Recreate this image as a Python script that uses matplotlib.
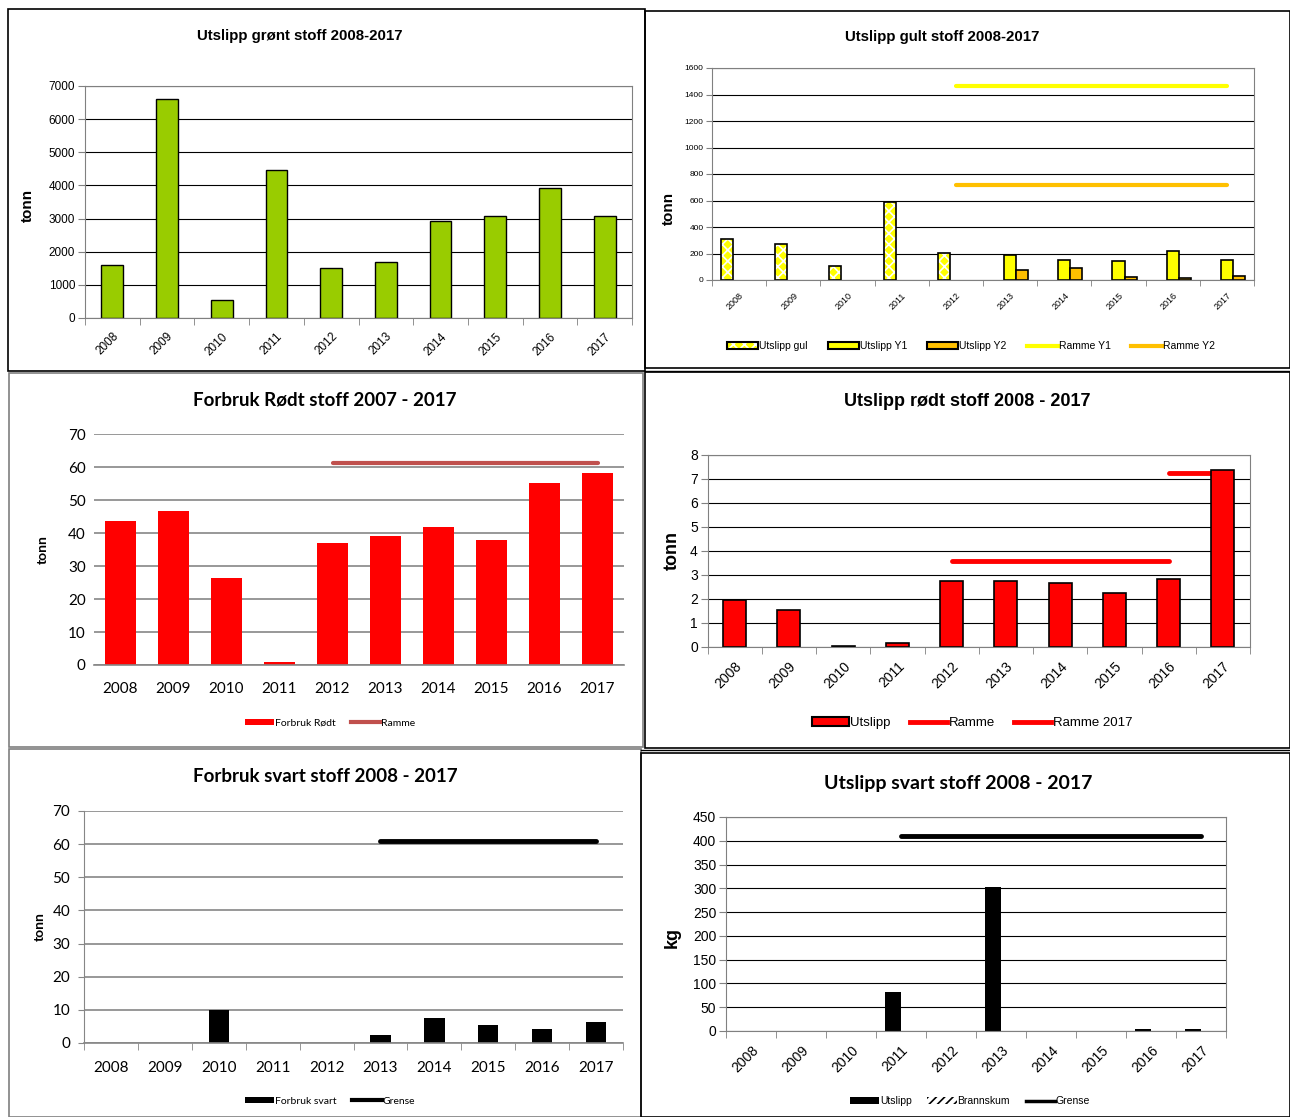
import numpy as np
import matplotlib
matplotlib.use("Agg")
import matplotlib.pyplot as plt
from matplotlib.patches import Rectangle, Patch
from matplotlib.lines import Line2D
from matplotlib.legend_handler import HandlerTuple

W, H = 1290, 1117
ARIAL = ['Liberation Sans', 'DejaVu Sans']
CALIBRI = ['Lato', 'Liberation Sans', 'DejaVu Sans']
plt.rcParams['hatch.linewidth'] = 1.2

years = ['2008', '2009', '2010', '2011', '2012', '2013', '2014', '2015', '2016', '2017']

# gront stoff, utslipp (tonn)
gront = [1596, 6616, 556, 4475, 1515, 1697, 2939, 3081, 3919, 3081]

# gult stoff (tonn)
gul_years = ['2008', '2009', '2010', '2011', '2012']
gul = [313, 269, 108, 587, 205]
y_years = ['2013', '2014', '2015', '2016', '2017']
y1 = [192, 149, 141, 218, 154]
y2 = [72, 90, 26, 13, 31]
ramme_years = ['2012', '2017']
ramme_y1 = [1465, 1465]
ramme_y2 = [715, 715]

# rodt stoff, forbruk (tonn)
rodt_forbruk = [43.6, 46.7, 26.3, 1.0, 36.9, 39.0, 41.9, 37.9, 55.3, 58.1]
ramme_forbruk_years = ['2012', '2017']
ramme_forbruk = [61.1, 61.1]

# rodt stoff, utslipp (tonn)
rodt_utslipp = [1.97, 1.55, 0.05, 0.17, 2.74, 2.77, 2.66, 2.27, 2.85, 7.38]
ramme_rodt_years = ['2012', '2016']
ramme_rodt = [3.57, 3.57]
ramme17_years = ['2016', '2017']
ramme17 = [7.27, 7.27]

# svart stoff, forbruk (tonn)
svart_forbruk = [0, 0, 9.9, 0, 0, 2.3, 7.4, 5.4, 4.1, 6.2]
grense_forbruk_years = ['2013', '2017']
grense_forbruk = [61, 61]

# svart stoff, utslipp (kg)
svart_utslipp = [0, 0, 0, 81, 0, 302.6, 0, 0, 3.5, 3.5]
brannskum = [0, 0, 0, 0, 0, 0, 0, 0, 0, 0]
grense_utslipp_years = ['2011', '2017']
grense_utslipp = [410, 410]

fig = plt.figure(figsize=(W / 100, H / 100), dpi=100)


def box(l, t, r, b):
    return fig.add_axes([l / W, 1 - b / H, (r - l) / W, (b - t) / H])


def frame(l, t, r, b, color='black'):
    fig.add_artist(Rectangle((l / W, 1 - b / H), (r - l) / W, (b - t) / H,
                             transform=fig.transFigure, fill=False,
                             edgecolor=color, lw=1.2))


def ftext(x, y, s, **kw):
    fig.text(x / W, 1 - y / H, s, ha='center', va='center', **kw)


def pos(labels):
    return [years.index(v) for v in labels]


def old_style(ax, ymax, step, fsize, xsize=None, ticklen=4):
    # excel 2003 look: grey frame, black grid, ticks between categories
    ax.set_xlim(-0.5, 9.5)
    ax.set_ylim(0, ymax)
    ax.set_yticks(np.arange(0, ymax + step, step))
    ax.yaxis.grid(True, color='black', lw=0.8)
    ax.set_axisbelow(True)
    for s in ax.spines.values():
        s.set_color('#808080')
    ax.set_xticks(range(10))
    ax.set_xticklabels(years, rotation=45, ha='right', rotation_mode='anchor',
                       family=ARIAL, fontsize=xsize or fsize)
    ax.set_xticks(np.arange(-0.5, 10, 1), minor=True)
    ax.tick_params(axis='x', which='major', length=0, pad=ticklen + 4)
    ax.tick_params(axis='x', which='minor', length=ticklen, color='#808080')
    ax.tick_params(axis='y', length=ticklen, color='#808080', pad=2)
    for t in ax.get_yticklabels():
        t.set_family(ARIAL)
        t.set_fontsize(fsize)


def new_style(ax, ymax, step, fsize, yline=False, xpad=12):
    # excel 2007 look: grey grid, no frame
    ax.set_xlim(-0.5, 9.5)
    ax.set_ylim(0, ymax)
    ax.set_yticks(np.arange(0, ymax + step, step))
    ax.yaxis.grid(True, color='#868686', lw=1.2)
    ax.set_axisbelow(True)
    for s in ['top', 'right']:
        ax.spines[s].set_visible(False)
    ax.spines['left'].set_visible(yline)
    ax.spines['left'].set_color('#868686')
    ax.spines['bottom'].set_color('#868686')
    ax.spines['bottom'].set_linewidth(1.2)
    ax.set_xticks(range(10))
    ax.set_xticklabels(years, family=CALIBRI, fontsize=fsize)
    ax.tick_params(axis='y', length=4 if yline else 0, color='#868686', pad=6)
    ax.tick_params(axis='x', which='major', length=0, pad=xpad)
    for t in ax.get_yticklabels():
        t.set_family(CALIBRI)
        t.set_fontsize(fsize)


# ---- panel 1: gront
frame(8, 9, 645, 371)
ax = box(85, 86, 632, 318)
old_style(ax, 7000, 1000, 8.5, ticklen=5)
ax.bar(range(10), gront, width=0.40, color='#99CC00', edgecolor='black', lw=1)
ftext(300, 36, 'Utslipp grønt stoff 2008-2017', family=ARIAL, fontsize=10.8, weight='bold')
ftext(28, 205, 'tonn', family=ARIAL, fontsize=11, weight='bold', rotation=90)

# ---- panel 2: gult
frame(645, 11, 1290, 368)
fig.add_artist(Line2D([645 / W, 1], [1 - 371 / H] * 2, transform=fig.transFigure, color='black', lw=1))
ax = box(712, 68, 1254, 280)
old_style(ax, 1600, 200, 6, xsize=6.5, ticklen=4)
w = 1 / 4.5
gx = np.array(pos(gul_years)) - w
ax.bar(gx, gul, width=w, color='#FFFF00', edgecolor='white', hatch='xxx', lw=0)
ax.bar(gx, gul, width=w, fill=False, edgecolor='black', lw=1.2)
yx = np.array(pos(y_years))
ax.bar(yx, y1, width=w, color='#FFFF00', edgecolor='black', lw=1.2)
ax.bar(yx + w, y2, width=w, color='#FFC000', edgecolor='black', lw=1.2)
ax.plot(pos(ramme_years), ramme_y1, color='#FFFF00', lw=3, solid_capstyle='round')
ax.plot(pos(ramme_years), ramme_y2, color='#FFC000', lw=3, solid_capstyle='round')
ftext(942, 37, 'Utslipp gult stoff 2008-2017', family=ARIAL, fontsize=10.8, weight='bold')
ftext(669, 208, 'tonn', family=ARIAL, fontsize=11, weight='bold', rotation=90)
h_gul = (Patch(facecolor='#FFFF00', edgecolor='white', hatch='xxx', lw=0),
         Patch(fill=False, edgecolor='black', lw=1.5))
handles = [h_gul,
           Patch(facecolor='#FFFF00', edgecolor='black', lw=1.5),
           Patch(facecolor='#FFC000', edgecolor='black', lw=1.5),
           Line2D([], [], color='#FFFF00', lw=3),
           Line2D([], [], color='#FFC000', lw=3)]
fig.legend(handles, ['Utslipp gul', 'Utslipp Y1', 'Utslipp Y2', 'Ramme Y1', 'Ramme Y2'],
           loc='center', bbox_to_anchor=(971 / W, 1 - 346 / H), ncol=5, frameon=False,
           prop={'family': ARIAL, 'size': 7.5}, handlelength=3.0, handleheight=0.6,
           handletextpad=0.1, columnspacing=1.9,
           handler_map={tuple: HandlerTuple(ndivide=1, pad=0)})

# ---- panel 3: rodt forbruk
frame(9, 373, 643, 747, color='#7f7f7f')
ax = box(94, 434, 624, 665)
new_style(ax, 70, 10, 11, xpad=12)
ax.bar(range(10), rodt_forbruk, width=0.58, color='#FF0000')
ax.plot(pos(ramme_forbruk_years), ramme_forbruk, color='#C0504D', lw=3, solid_capstyle='round')
ftext(325, 400, 'Forbruk Rødt stoff 2007 - 2017', family=CALIBRI, fontsize=13.5, weight='bold')
ftext(43, 550, 'tonn', family=CALIBRI, fontsize=10, weight='bold', rotation=90)
fig.legend([Patch(facecolor='#FF0000'), Line2D([], [], color='#C0504D', lw=3)],
           ['Forbruk Rødt', 'Ramme'], loc='center', bbox_to_anchor=(330 / W, 1 - 723 / H),
           ncol=2, frameon=False, prop={'family': CALIBRI, 'size': 7.5},
           handlelength=2.8, handleheight=0.6, handletextpad=0.1, columnspacing=1.5)

# ---- panel 4: rodt utslipp
frame(645, 372, 1290, 748)
ax = box(707.5, 455, 1250, 647)
old_style(ax, 8, 1, 10, ticklen=5)
ax.plot(pos(ramme_rodt_years), ramme_rodt, color='#FF0000', lw=3.5, solid_capstyle='round')
ax.plot(pos(ramme17_years), ramme17, color='#FF0000', lw=3.5, solid_capstyle='round', zorder=1.5)
ax.bar(range(10), rodt_utslipp, width=0.42, color='#FF0000', edgecolor='black', lw=1.2, zorder=2)
ftext(967, 401, 'Utslipp rødt stoff 2008 - 2017', family=ARIAL, fontsize=13, weight='bold')
ftext(672, 550, 'tonn', family=ARIAL, fontsize=13, weight='bold', rotation=90)
fig.legend([Patch(facecolor='#FF0000', edgecolor='black', lw=1.5),
            Line2D([], [], color='#FF0000', lw=3.5), Line2D([], [], color='#FF0000', lw=3.5)],
           ['Utslipp', 'Ramme', 'Ramme 2017'], loc='center',
           bbox_to_anchor=(972 / W, 1 - 723 / H), ncol=3, frameon=False,
           prop={'family': ARIAL, 'size': 9.5}, handlelength=2.8, handleheight=0.6,
           handletextpad=0.1, columnspacing=1.5)

# ---- panel 5: svart forbruk
frame(9, 749, 641, 1117, color='#7f7f7f')
ax = box(84, 811, 623, 1043)
new_style(ax, 70, 10, 11, yline=True, xpad=13)
ax.set_xticks(np.arange(-0.5, 10, 1), minor=True)
ax.tick_params(axis='x', which='minor', length=5, color='#868686')
ax.bar(range(10), svart_forbruk, width=0.38, color='black')
ax.plot(pos(grense_forbruk_years), grense_forbruk, color='black', lw=3.5, solid_capstyle='round')
ftext(325, 776, 'Forbruk svart stoff 2008 - 2017', family=CALIBRI, fontsize=13.5, weight='bold')
ftext(40, 927, 'tonn', family=CALIBRI, fontsize=10, weight='bold', rotation=90)
fig.legend([Patch(facecolor='black'), Line2D([], [], color='black', lw=3)],
           ['Forbruk svart', 'Grense'], loc='center', bbox_to_anchor=(330 / W, 1 - 1101 / H),
           ncol=2, frameon=False, prop={'family': CALIBRI, 'size': 7.5},
           handlelength=2.8, handleheight=0.6, handletextpad=0.1, columnspacing=1.5)

# ---- panel 6: svart utslipp
frame(641, 753, 1290, 1117)
fig.add_artist(Line2D([641 / W, 1], [1 - 750 / H] * 2, transform=fig.transFigure, color='black', lw=1))
ax = box(726, 817, 1226, 1031)
old_style(ax, 450, 50, 10, ticklen=5)
w = 0.32
ax.bar(np.arange(10) - w / 2, svart_utslipp, width=w, color='black')
ax.bar(np.arange(10) + w / 2, brannskum, width=w, color='white', edgecolor='black', hatch='////', lw=0)
ax.plot(pos(grense_utslipp_years), grense_utslipp, color='black', lw=3.5, solid_capstyle='round')
ftext(958, 783, 'Utslipp svart stoff 2008 - 2017', family=CALIBRI, fontsize=14, weight='bold')
ftext(672, 937, 'kg', family=ARIAL, fontsize=13, weight='bold', rotation=90)
fig.legend([Patch(facecolor='black'), Patch(facecolor='white', edgecolor='black', hatch='////', lw=0),
            Line2D([], [], color='black', lw=2.5)],
           ['Utslipp', 'Brannskum', 'Grense'], loc='center',
           bbox_to_anchor=(970 / W, 1 - 1101 / H), ncol=3, frameon=False,
           prop={'family': ARIAL, 'size': 7.5}, handlelength=2.8, handleheight=0.6,
           handletextpad=0.1, columnspacing=1.5)

fig.savefig('out.png', dpi=100)
